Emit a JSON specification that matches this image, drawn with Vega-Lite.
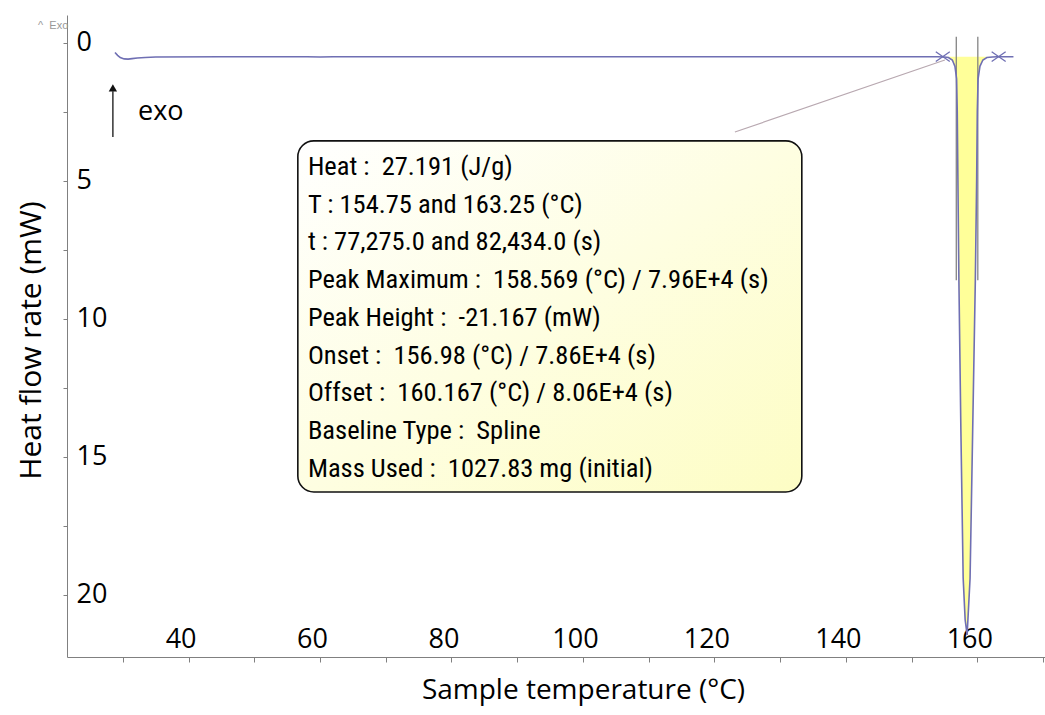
{
  "$schema": "https://vega.github.io/schema/vega-lite/v6.json",
  "width": 978,
  "height": 642,
  "autosize": "none",
  "padding": {"left": 67, "top": 15, "right": 0, "bottom": 58},
  "background": "white",
  "config": {"view": {"stroke": null}, "font": "Open Sans"},
  "datasets": {
    "curve": [
      {"T": 28.8, "hf": 0.35}, {"T": 29.2, "hf": 0.45}, {"T": 29.6, "hf": 0.53}, {"T": 30.2, "hf": 0.58},
      {"T": 30.8, "hf": 0.59}, {"T": 31.4, "hf": 0.57}, {"T": 32.2, "hf": 0.55}, {"T": 33.4, "hf": 0.53},
      {"T": 35, "hf": 0.51}, {"T": 45, "hf": 0.5}, {"T": 58, "hf": 0.5}, {"T": 60, "hf": 0.51},
      {"T": 62, "hf": 0.5}, {"T": 80, "hf": 0.5}, {"T": 100, "hf": 0.5}, {"T": 120, "hf": 0.5},
      {"T": 140, "hf": 0.5}, {"T": 150, "hf": 0.5}, {"T": 154.0, "hf": 0.5}, {"T": 155.0, "hf": 0.51},
      {"T": 155.6, "hf": 0.53}, {"T": 156.2, "hf": 0.62}, {"T": 156.6, "hf": 0.85}, {"T": 156.85, "hf": 1.3},
      {"T": 156.95, "hf": 2.5}, {"T": 157.05, "hf": 5.0}, {"T": 157.2, "hf": 8.6}, {"T": 157.5, "hf": 14.0},
      {"T": 157.85, "hf": 19.4}, {"T": 158.15, "hf": 20.9}, {"T": 158.45, "hf": 21.45}, {"T": 158.9, "hf": 19.4},
      {"T": 159.3, "hf": 14.0}, {"T": 159.7, "hf": 8.6}, {"T": 159.9, "hf": 5.0}, {"T": 160.0, "hf": 2.5},
      {"T": 160.12, "hf": 1.3}, {"T": 160.4, "hf": 0.85}, {"T": 160.85, "hf": 0.62}, {"T": 161.46, "hf": 0.53},
      {"T": 162.3, "hf": 0.51}, {"T": 163.0, "hf": 0.5}, {"T": 165.5, "hf": 0.5}
    ],
    "limits": [{"T": 154.75, "hf": 0.5}, {"T": 163.25, "hf": 0.5}],
    "tangents": [{"T": 156.8, "hf": -0.22}, {"T": 160.08, "hf": -0.22}]
  },
  "layer": [
    {
      "data": {"name": "curve"},
      "transform": [{"filter": "datum.T >= 155.4 && datum.T <= 161.6"}],
      "mark": {"type": "area", "color": "#ffff99", "opacity": 1},
      "encoding": {
        "x": {
          "field": "T", "type": "quantitative",
          "scale": {"domain": [21.5, 170.3], "nice": false, "zero": false},
          "axis": {
            "title": "Sample temperature (°C)",
            "values": [30, 40, 50, 60, 70, 80, 90, 100, 110, 120, 130, 140, 150, 160, 170],
            "labelExpr": "datum.value % 20 === 0 ? datum.label : ''",
            "grid": false, "domainColor": "#808080", "tickColor": "#808080", "tickSize": 5,
            "labelPadding": -15, "labelBaseline": "alphabetic", "labelOffset": -8,
            "labelFont": "Open Sans", "labelFontSize": 27, "labelColor": "#000000",
            "labelOverlap": false, "labelFlush": false,
            "titleFont": "Open Sans", "titleFontSize": 28, "titleFontWeight": "normal", "titleColor": "#000000",
            "titleX": 516, "titleY": 33, "titleBaseline": "middle"
          }
        },
        "y": {
          "field": "hf", "type": "quantitative",
          "scale": {"domain": [-1.01, 22.25], "reverse": true, "nice": false, "zero": false},
          "axis": {
            "title": "Heat flow rate (mW)",
            "values": [0, 2.5, 5, 7.5, 10, 12.5, 15, 17.5, 20],
            "labelExpr": "datum.value % 5 === 0 ? datum.label : ''",
            "grid": false, "domainColor": "#808080", "tickColor": "#808080", "tickSize": 4,
            "labelAlign": "left", "labelPadding": -13, "labelBaseline": "middle",
            "labelFont": "Open Sans", "labelFontSize": 27, "labelColor": "#000000",
            "labelOverlap": false, "labelFlush": false,
            "titleFont": "Open Sans", "titleFontSize": 30, "titleFontWeight": "normal", "titleColor": "#000000",
            "titleX": -36, "titleY": 325, "titleBaseline": "middle"
          }
        },
        "y2": {"datum": 0.5}
      }
    },
    {
      "data": {"name": "tangents"},
      "mark": {"type": "rule", "color": "#7a7a7a", "strokeWidth": 1.2},
      "encoding": {
        "x": {"field": "T", "type": "quantitative"},
        "y": {"field": "hf", "type": "quantitative"},
        "y2": {"datum": 8.6}
      }
    },
    {
      "data": {"name": "curve"},
      "mark": {"type": "line", "color": "#6f6fb3", "strokeWidth": 1.6},
      "encoding": {
        "x": {"field": "T", "type": "quantitative"},
        "y": {"field": "hf", "type": "quantitative"}
      }
    },
    {
      "data": {"name": "limits"},
      "mark": {"type": "point", "shape": "M-1,-0.7L1,0.7M-1,0.7L1,-0.7", "size": 196, "filled": false, "stroke": "#6f6fb3", "strokeWidth": 1.3, "opacity": 1},
      "encoding": {
        "x": {"field": "T", "type": "quantitative"},
        "y": {"field": "hf", "type": "quantitative"}
      }
    },
    {
      "data": {"values": [{"k": 1}]},
      "mark": {"type": "rule", "color": "#b8a8b0", "strokeWidth": 1.2},
      "encoding": {
        "x": {"datum": 123.12, "type": "quantitative"},
        "x2": {"datum": 155.07},
        "y": {"datum": 3.23, "type": "quantitative"},
        "y2": {"datum": 0.62}
      }
    },
    {
      "data": {"values": [{"k": 1}]},
      "mark": {"type": "rule", "color": "#333333", "strokeWidth": 1.5},
      "encoding": {
        "x": {"datum": 28.48, "type": "quantitative"},
        "y": {"datum": 3.41, "type": "quantitative"},
        "y2": {"datum": 1.75}
      }
    },
    {
      "data": {"values": [{"k": 1}]},
      "mark": {"type": "point", "shape": "triangle-up", "size": 70, "filled": true, "color": "#111111", "opacity": 1},
      "encoding": {
        "x": {"datum": 28.48, "type": "quantitative"},
        "y": {"datum": 1.63, "type": "quantitative"}
      }
    },
    {
      "data": {"values": [{"k": 1}]},
      "mark": {"type": "text", "text": "exo", "font": "Open Sans", "fontSize": 27, "align": "left", "baseline": "alphabetic", "color": "#000000"},
      "encoding": {
        "x": {"datum": 32.3, "type": "quantitative"},
        "y": {"datum": 2.79, "type": "quantitative"}
      }
    },
    {
      "data": {"values": [{"k": 1}]},
      "mark": {"type": "text", "text": "^ \u00a0Exo", "font": "Liberation Sans", "fontSize": 11, "align": "left", "baseline": "alphabetic", "color": "#999999"},
      "encoding": {
        "x": {"datum": 17.1, "type": "quantitative"},
        "y": {"datum": -0.5, "type": "quantitative"}
      }
    },
    {
      "data": {"values": [{"k": 1}]},
      "mark": {
        "type": "rect", "cornerRadius": 16, "stroke": "#111111", "strokeWidth": 1.6,
        "fill": {"gradient": "linear", "x1": 0, "y1": 0, "x2": 1, "y2": 1,
                 "stops": [{"offset": 0, "color": "#ffffff"}, {"offset": 1, "color": "#fdfdc4"}]}
      },
      "encoding": {
        "x": {"datum": 56.62, "type": "quantitative"},
        "x2": {"datum": 133.3},
        "y": {"datum": 3.55, "type": "quantitative"},
        "y2": {"datum": 16.27}
      }
    },
    {
      "data": {"values": [{"k": 1}]},
      "mark": {
        "type": "text",
        "text": [
          "Heat : \u00a027.191 (J/g)",
          "T : 154.75 and 163.25 (°C)",
          "t : 77,275.0 and 82,434.0 (s)",
          "Peak Maximum : \u00a0158.569 (°C) / 7.96E+4 (s)",
          "Peak Height : \u00a0-21.167 (mW)",
          "Onset : \u00a0156.98 (°C) / 7.86E+4 (s)",
          "Offset : \u00a0160.167 (°C) / 8.06E+4 (s)",
          "Baseline Type : \u00a0Spline",
          "Mass Used : \u00a01027.83 mg (initial)"
        ],
        "font": "Liberation Sans Narrow, Arial Narrow, Roboto Condensed, DejaVu Sans Condensed, sans-serif",
        "fontSize": 26.5, "lineHeight": 37.75, "align": "left", "baseline": "alphabetic", "color": "#000000"
      },
      "encoding": {
        "x": {"datum": 58.15, "type": "quantitative"},
        "y": {"datum": 4.78, "type": "quantitative"}
      }
    }
  ]
}
